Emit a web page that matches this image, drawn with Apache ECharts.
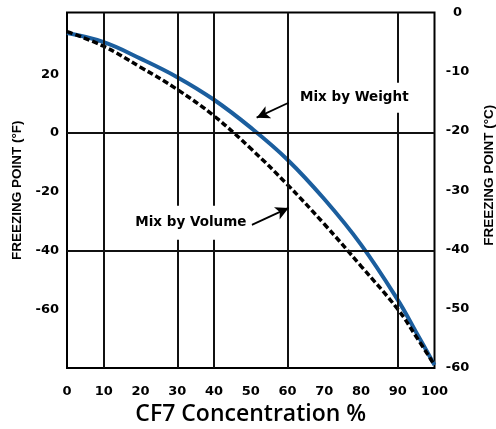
<!DOCTYPE html>
<html>
<head>
<meta charset="utf-8">
<script src="https://cdn.jsdelivr.net/npm/echarts@6/dist/echarts.min.js"></script>
<style>
html,body{margin:0;padding:0;background:#fff;}
#chart{width:496px;height:429px;}
</style>
</head>
<body>
<div id="chart"></div>
<script>
// ---- data ----
const concentration = [0, 10, 20, 30, 40, 50, 60, 70, 80, 90, 95, 100];
const weightF = [34, 30.9, 25.3, 19, 11.3, 1.8, -9.1, -22.5, -38, -56.8, -67.8, -79];
const volumeF = [34.5, 29.5, 22.4, 14.8, 5.8, -5.3, -17.6, -31, -45.3, -60, -69.3, -79];
const gridLinesX = [10, 30, 40, 60, 90];
const gridLinesY = [0, -40];
const leftTickStep = 20;
const hiddenLeftTicks = [40, -80];
const weightLabel = 'Mix by Weight';
const volumeLabel = 'Mix by Volume';

const chart = echarts.init(document.getElementById('chart'), null, {renderer: 'canvas'});

const tickFont = {fontFamily: 'DejaVu Sans', fontWeight: 'bold', fontSize: 13, color: '#000'};
const nameFont = {fontFamily: 'Liberation Sans', fontWeight: 'bold', fontSize: 13.5, color: '#000'};
const noEmph = {disabled: true};

const option = {
  animation: false,
  backgroundColor: '#fff',
  grid: {left: 67, right: 61.5, top: 12.5, bottom: 61, show: true, borderColor: '#000', borderWidth: 2,
    backgroundColor: 'transparent', containLabel: false, outerBoundsMode: 'none'},
  xAxis: {
    type: 'value', min: 0, max: 100, interval: 10,
    axisLine: {show: false}, axisTick: {show: false}, splitLine: {show: false},
    axisLabel: Object.assign({margin: 17}, tickFont),
    name: 'CF7 Concentration %', nameLocation: 'middle', nameGap: 30,
    nameTextStyle: {fontFamily: 'Open Sans', fontWeight: 600, fontSize: 23, color: '#000'}
  },
  yAxis: [
    {
      type: 'value', min: -80, max: 41, interval: leftTickStep, position: 'left',
      axisLine: {show: false}, axisTick: {show: false}, splitLine: {show: false},
      axisLabel: Object.assign({
        margin: 8, showMaxLabel: false, showMinLabel: false,
        formatter: v => (v % leftTickStep !== 0 || hiddenLeftTicks.includes(v)) ? '' : String(v)
      }, tickFont),
      name: 'FREEZING POINT (°F)', nameLocation: 'middle', nameGap: 40, nameRotate: 90,
      nameTextStyle: nameFont
    },
    {
      type: 'value', min: -60, max: 0, interval: 10, position: 'right',
      axisLine: {show: false}, axisTick: {show: false}, splitLine: {show: false},
      axisLabel: Object.assign({margin: 23, align: 'center'}, tickFont),
      name: 'FREEZING POINT (°C)', nameLocation: 'middle', nameGap: 48, nameRotate: 90,
      nameTextStyle: Object.assign({padding: [0, 0, 0, 30]}, nameFont)
    }
  ],
  series: [
    {
      name: 'grid', type: 'line', data: [], z: 1, silent: true,
      markLine: {
        silent: true, symbol: ['none', 'none'], animation: false,
        label: {show: false}, emphasis: noEmph,
        lineStyle: {color: '#111', width: 2, type: 'solid'},
        data: gridLinesX.map(v => ({xAxis: v})).concat(gridLinesY.map(v => ({yAxis: v})))
      }
    },
    {
      name: weightLabel, type: 'line', z: 3, smooth: 0.4, showSymbol: false, emphasis: noEmph,
      lineStyle: {color: '#1b5e9e', width: 4},
      data: concentration.map((c, i) => [c, weightF[i]])
    },
    {
      name: volumeLabel, type: 'line', z: 4, smooth: 0.4, showSymbol: false, emphasis: noEmph,
      lineStyle: {color: '#000', width: 3.5, type: [6, 3]},
      data: concentration.map((c, i) => [c, volumeF[i]])
    },
    {
      name: 'annotations', type: 'line', data: [], z: 5, silent: true,
      markPoint: {
        silent: true, symbol: 'rect', symbolSize: [1, 1], itemStyle: {color: 'rgba(0,0,0,0)'},
        label: {show: true, position: 'inside', backgroundColor: '#fff',
          fontFamily: 'DejaVu Sans', fontWeight: 'bold', fontSize: 13.5, color: '#000'},
        data: [
          {coord: [77.5, 12], label: {formatter: weightLabel, padding: [8, 5, 8, 10]}},
          {coord: [33.7, -30.6], label: {formatter: volumeLabel, padding: [10, 5, 10, 5]}}
        ]
      },
      markLine: {
        silent: true, symbol: ['none', 'arrow'], symbolSize: [10, 13],
        label: {show: false}, emphasis: noEmph,
        lineStyle: {color: '#000', width: 1.8, type: 'solid'},
        data: [
          [{coord: [60.3, 10.3]}, {coord: [51.6, 5.2]}],
          [{coord: [50.3, -31.3]}, {coord: [60.3, -25.5]}]
        ]
      }
    }
  ]
};
chart.setOption(option);
</script>
</body>
</html>
